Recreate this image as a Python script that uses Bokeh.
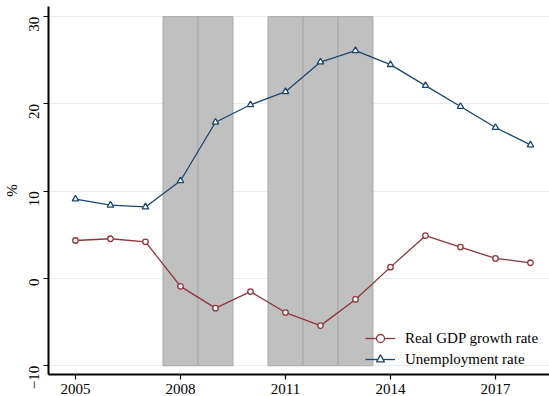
import math
from bokeh.plotting import figure
from bokeh.models import Range1d, FixedTicker, Legend, LegendItem
from bokeh.embed import file_html
from bokeh.resources import INLINE

# Annual series, percent
years = [2005, 2006, 2007, 2008, 2009, 2010, 2011, 2012, 2013, 2014, 2015, 2016, 2017, 2018]
gdp_growth = [4.35, 4.55, 4.2, -0.9, -3.4, -1.5, -3.9, -5.4, -2.4, 1.3, 4.9, 3.6, 2.3, 1.8]
unemployment = [9.1, 8.4, 8.2, 11.2, 17.9, 19.9, 21.4, 24.8, 26.1, 24.5, 22.1, 19.7, 17.3, 15.3]

# Recession years shaded across the full band
recession_years = [2008, 2009, 2011, 2012, 2013]
shade_bottom = -10
shade_top = 30

x_ticks = [2005, 2008, 2011, 2014, 2017]
y_ticks = [-10, 0, 10, 20, 30]

FONT = "Liberation Serif"
MAROON = "#90353b"
NAVY = "#1a476f"

p = figure(
    width=549, height=396,
    output_backend="svg", toolbar_location=None,
    x_range=Range1d(2004.229, 2018.543),
    y_range=Range1d(-11.0, 31.16),
    min_border_left=48, min_border_right=0,
    min_border_top=6, min_border_bottom=22,
)
p.outline_line_color = None
p.background_fill_color = "white"
p.border_fill_color = "white"

# Grid
p.xgrid.visible = False
p.ygrid.grid_line_color = "#e6eef0"
p.ygrid.grid_line_width = 1
p.ygrid.ticker = FixedTicker(ticks=y_ticks)

# Shaded recession bands
p.vbar(x=recession_years, width=1.0, bottom=shade_bottom, top=shade_top,
       fill_color="#c0c0c0", line_color="#a9a9a9", line_width=1)

# Series
gl = p.line(years, gdp_growth, line_color=MAROON, line_width=1.3)
gs = p.scatter(years, gdp_growth, marker="circle", size=5.5, fill_color="white",
               line_color=MAROON, line_width=1.3)
ul = p.line(years, unemployment, line_color=NAVY, line_width=1.3)
us = p.scatter(years, unemployment, marker="triangle", size=6.5, fill_color="white",
               line_color=NAVY, line_width=1.3)

# Axes
for ax in (p.xaxis[0], p.yaxis[0]):
    ax.axis_line_color = "black"
    ax.axis_line_width = 2
    ax.major_tick_line_color = "black"
    ax.major_tick_line_width = 1.2
    ax.major_tick_out = 5
    ax.major_tick_in = 0
    ax.minor_tick_line_color = None
    ax.major_label_text_font = FONT
    ax.major_label_text_font_size = "15px"
    ax.major_label_text_color = "black"

p.xaxis.ticker = FixedTicker(ticks=x_ticks)
p.xaxis.major_label_standoff = 4

p.yaxis.ticker = FixedTicker(ticks=y_ticks)
p.yaxis.major_label_orientation = math.pi / 2
p.yaxis.major_label_standoff = 9
p.yaxis.axis_label = "%"
p.yaxis.axis_label_text_font = FONT
p.yaxis.axis_label_text_font_style = "normal"
p.yaxis.axis_label_text_font_size = "15px"
p.yaxis.axis_label_text_color = "black"
p.yaxis.axis_label_standoff = 2

legend = Legend(
    items=[
        LegendItem(label="Real GDP growth rate", renderers=[gl, gs]),
        LegendItem(label="Unemployment rate", renderers=[ul, us]),
    ],
    location=(317, 5),
    orientation="vertical",
    label_text_font=FONT,
    label_text_font_size="15px",
    label_text_color="black",
    glyph_width=30,
    glyph_height=20,
    label_height=20,
    label_standoff=10,
    spacing=1,
    padding=2,
    margin=0,
    border_line_color=None,
    background_fill_alpha=0.0,
)
p.add_layout(legend, "center")

open("out.html", "w").write(file_html(p, INLINE))
